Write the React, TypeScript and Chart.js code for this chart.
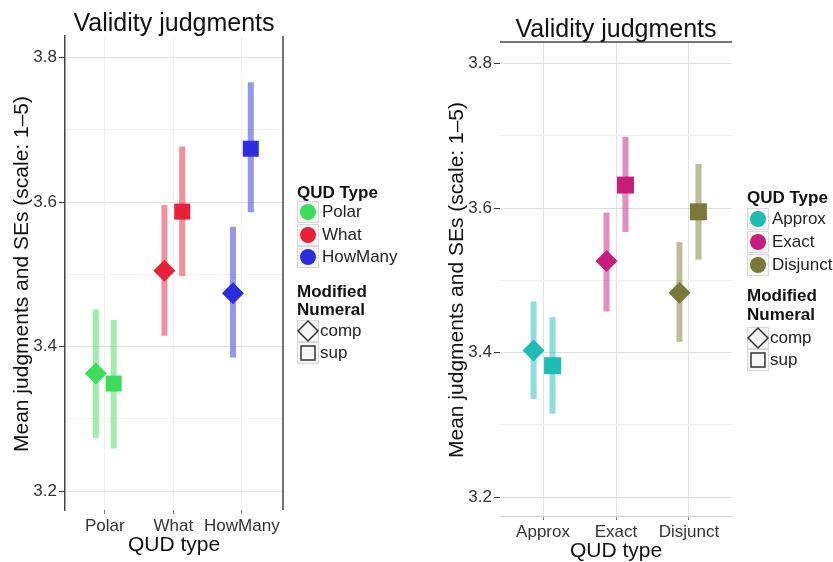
import React, { useEffect, useRef } from "react";
import { Chart, registerables } from "chart.js";

Chart.register(...registerables);

const FONT = '"Liberation Sans", Arial, Helvetica, sans-serif';

// ---------- data ----------
const chartTitle = "Validity judgments";
const xAxisTitle = "QUD type";
const yAxisTitle = "Mean judgments and SEs (scale: 1\u20135)";
const legendTitleColor = "QUD Type";
const legendTitleShape = ["Modified", "Numeral"];
const shapeLabels = ["comp", "sup"];

const yTickValues = [3.2, 3.3, 3.4, 3.5, 3.6, 3.7, 3.8];

// left panel
const leftCategories = ["Polar", "What", "HowMany"];
const leftCompMean = [3.363, 3.505, 3.474];
const leftCompLow = [3.274, 3.415, 3.385];
const leftCompHigh = [3.452, 3.596, 3.566];
const leftSupMean = [3.349, 3.587, 3.674];
const leftSupLow = [3.259, 3.498, 3.586];
const leftSupHigh = [3.437, 3.677, 3.766];
const leftColors = ["#3ddc5c", "#e8213a", "#2d2ddf"];

// right panel
const rightCategories = ["Approx", "Exact", "Disjunct"];
const rightCompMean = [3.403, 3.527, 3.483];
const rightCompLow = [3.336, 3.457, 3.415];
const rightCompHigh = [3.471, 3.594, 3.553];
const rightSupMean = [3.382, 3.632, 3.595];
const rightSupLow = [3.316, 3.567, 3.529];
const rightSupHigh = [3.449, 3.699, 3.661];
const rightColors = ["#1dbdb6", "#c71e7e", "#79793a"];

// ---------- helpers ----------
function withAlpha(hex: string, a: number) {
  const n = parseInt(hex.slice(1), 16);
  return `rgba(${(n >> 16) & 255},${(n >> 8) & 255},${n & 255},${a})`;
}

const isMajor = (v: number) => Math.round(v * 10) % 2 === 0;

type PanelSpec = {
  categories: string[];
  compMean: number[];
  compLow: number[];
  compHigh: number[];
  supMean: number[];
  supLow: number[];
  supHigh: number[];
  colors: string[];
  width: number;
  height: number;
  padTop: number;
  padRight: number;
  yAxisWidth: number;
  xAxisHeight: number;
  xMin: number;
  xMax: number;
  dodge: number;
  frame: "sides" | "top";
  titleY: number;
  xTitleY: number;
  yTitleX: number;
  yTitleY: number;
  legendX: number;
  legendColorTitleY: number;
  legendColorY: number[];
  legendShapeTitleY: number[];
  legendShapeY: number[];
  squareRadius: number;
  diamondRadius: number;
  vGrid: string;
  hMajor: string;
  hMinor: string;
  bottomBorder: boolean;
};

function buildConfig(spec: PanelSpec) {
  const datasets: any[] = [];
  spec.categories.forEach((_, i) => {
    const xc = i + 1 - spec.dodge;
    const xs = i + 1 + spec.dodge;
    datasets.push({
      type: "line",
      data: [
        { x: xc, y: spec.compLow[i] },
        { x: xc, y: spec.compHigh[i] },
        { x: xc, y: null },
        { x: xs, y: spec.supLow[i] },
        { x: xs, y: spec.supHigh[i] },
      ],
      borderColor: withAlpha(spec.colors[i], 0.5),
      borderWidth: 6,
      borderCapStyle: "butt",
      pointRadius: 0,
      spanGaps: false,
      fill: false,
      order: 2,
    });
    datasets.push({
      type: "scatter",
      data: [
        { x: xc, y: spec.compMean[i] },
        { x: xs, y: spec.supMean[i] },
      ],
      pointStyle: ["rectRot", "rect"],
      pointRadius: [spec.diamondRadius, spec.squareRadius],
      backgroundColor: spec.colors[i],
      borderWidth: 0,
      order: 0,
    });
  });

  const extras = {
    id: "panelExtras",
    afterDraw(chart: any) {
      const ctx = chart.ctx as CanvasRenderingContext2D;
      const a = chart.chartArea;
      ctx.save();
      ctx.strokeStyle = "#444";
      ctx.lineWidth = 1.5;
      ctx.beginPath();
      if (spec.frame === "sides") {
        ctx.moveTo(a.right, a.top);
        ctx.lineTo(a.right, a.bottom);
      } else {
        ctx.moveTo(a.left, a.top);
        ctx.lineTo(a.right, a.top);
      }
      ctx.stroke();

      ctx.fillStyle = "#111";
      ctx.textAlign = "center";
      ctx.textBaseline = "alphabetic";
      ctx.font = `25px ${FONT}`;
      ctx.fillText(chartTitle, (a.left + a.right) / 2, spec.titleY);
      ctx.font = `21px ${FONT}`;
      ctx.fillText(xAxisTitle, (a.left + a.right) / 2, spec.xTitleY);
      ctx.save();
      ctx.translate(spec.yTitleX, spec.yTitleY);
      ctx.rotate(-Math.PI / 2);
      ctx.fillText(yAxisTitle, 0, 0);
      ctx.restore();

      // legend
      const lx = spec.legendX;
      const kw = 22;
      ctx.textAlign = "left";
      ctx.textBaseline = "middle";
      ctx.font = `bold 17px ${FONT}`;
      ctx.fillStyle = "#111";
      ctx.fillText(legendTitleColor, lx, spec.legendColorTitleY);
      spec.categories.forEach((cat, i) => {
        const cy = spec.legendColorY[i];
        ctx.fillStyle = "#f6f6f6";
        ctx.fillRect(lx, cy - kw / 2, kw, kw);
        ctx.strokeStyle = "#d8d8d8";
        ctx.lineWidth = 1;
        ctx.strokeRect(lx + 0.5, cy - kw / 2 + 0.5, kw - 1, kw - 1);
        ctx.fillStyle = spec.colors[i];
        ctx.beginPath();
        ctx.arc(lx + kw / 2, cy, 8, 0, Math.PI * 2);
        ctx.fill();
        ctx.fillStyle = "#222";
        ctx.font = `17px ${FONT}`;
        ctx.fillText(cat, lx + kw + 3, cy);
      });
      ctx.font = `bold 17px ${FONT}`;
      ctx.fillStyle = "#111";
      legendTitleShape.forEach((t, i) => ctx.fillText(t, lx, spec.legendShapeTitleY[i]));
      shapeLabels.forEach((lab, i) => {
        const cy = spec.legendShapeY[i];
        const cx = lx + kw / 2;
        ctx.fillStyle = "#f6f6f6";
        ctx.fillRect(lx, cy - kw / 2, kw, kw);
        ctx.strokeStyle = "#d8d8d8";
        ctx.lineWidth = 1;
        ctx.strokeRect(lx + 0.5, cy - kw / 2 + 0.5, kw - 1, kw - 1);
        ctx.strokeStyle = "#333";
        ctx.lineWidth = 1.5;
        ctx.beginPath();
        if (i === 0) {
          ctx.moveTo(cx - 10, cy);
          ctx.lineTo(cx, cy - 10);
          ctx.lineTo(cx + 10, cy);
          ctx.lineTo(cx, cy + 10);
          ctx.closePath();
        } else {
          ctx.rect(cx - 7, cy - 7, 14, 14);
        }
        ctx.stroke();
        ctx.fillStyle = "#222";
        ctx.font = `17px ${FONT}`;
        ctx.fillText(lab, lx + kw + 1, cy);
      });
      ctx.restore();
    },
  };

  return {
    type: "scatter",
    data: { datasets },
    plugins: [extras],
    options: {
      animation: false,
      responsive: false,
      events: [],
      layout: {
        autoPadding: false,
        padding: { left: 0, right: spec.padRight, top: spec.padTop, bottom: 0 },
      },
      plugins: { legend: { display: false }, tooltip: { enabled: false }, title: { display: false } },
      scales: {
        x: {
          type: "linear",
          min: spec.xMin,
          max: spec.xMax,
          afterBuildTicks: (s: any) => {
            s.ticks = spec.categories.map((_, i) => ({ value: i + 1 }));
          },
          afterFit: (s: any) => {
            s.height = spec.xAxisHeight;
          },
          ticks: {
            autoSkip: false,
            maxRotation: 0,
            padding: 2,
            color: "#333",
            font: { family: FONT, size: 17 },
            callback: (v: number) => spec.categories[Math.round(v) - 1] ?? "",
          },
          grid: {
            color: spec.vGrid,
            lineWidth: 1,
            tickLength: 4,
            tickColor: "#777",
          },
          border: { display: spec.bottomBorder, color: "#d0d0d0", width: 1 },
        },
        y: {
          type: "linear",
          min: 3.174,
          max: 3.83,
          afterBuildTicks: (s: any) => {
            s.ticks = yTickValues.map((v) => ({ value: v }));
          },
          afterFit: (s: any) => {
            s.width = spec.yAxisWidth;
          },
          ticks: {
            padding: 2,
            color: "#333",
            font: { family: FONT, size: 17 },
            callback: (v: number) => (isMajor(v) ? v.toFixed(1) : ""),
          },
          grid: {
            color: (c: any) => (c.tick && isMajor(c.tick.value) ? spec.hMajor : spec.hMinor),
            lineWidth: 1,
            tickLength: 6,
            tickColor: (c: any) => (c.tick && isMajor(c.tick.value) ? "#333" : "rgba(0,0,0,0)"),
          },
          border: { display: spec.frame === "sides", color: "#444", width: 1.5 },
        },
      },
    },
  };
}

const leftSpec: PanelSpec = {
  categories: leftCategories,
  compMean: leftCompMean,
  compLow: leftCompLow,
  compHigh: leftCompHigh,
  supMean: leftSupMean,
  supLow: leftSupLow,
  supHigh: leftSupHigh,
  colors: leftColors,
  width: 420,
  height: 562,
  padTop: 36,
  padRight: 137,
  yAxisWidth: 65,
  xAxisHeight: 52,
  xMin: 0.42,
  xMax: 3.6,
  dodge: 0.13,
  frame: "sides",
  titleY: 31,
  xTitleY: 551,
  yTitleX: 28,
  yTitleY: 274,
  legendX: 297,
  legendColorTitleY: 193,
  legendColorY: [212, 235, 257],
  legendShapeTitleY: [292, 310],
  legendShapeY: [331, 353],
  squareRadius: 11.3,
  diamondRadius: 11,
  vGrid: "#f0f0f0",
  hMajor: "#e2e2e2",
  hMinor: "#f3f3f3",
  bottomBorder: false,
};

const rightSpec: PanelSpec = {
  categories: rightCategories,
  compMean: rightCompMean,
  compLow: rightCompLow,
  compHigh: rightCompHigh,
  supMean: rightSupMean,
  supLow: rightSupLow,
  supHigh: rightSupHigh,
  colors: rightColors,
  width: 413,
  height: 562,
  padTop: 42,
  padRight: 101,
  yAxisWidth: 80,
  xAxisHeight: 46,
  xMin: 0.41,
  xMax: 3.59,
  dodge: 0.13,
  frame: "top",
  titleY: 37,
  xTitleY: 557,
  yTitleX: 43,
  yTitleY: 280,
  legendX: 327,
  legendColorTitleY: 198,
  legendColorY: [219, 242, 265],
  legendShapeTitleY: [296, 315],
  legendShapeY: [338, 360],
  squareRadius: 12,
  diamondRadius: 11,
  vGrid: "#e3e3e3",
  hMajor: "#dedede",
  hMinor: "#eeeeee",
  bottomBorder: true,
};

function Panel({ spec, left }: { spec: PanelSpec; left: number }) {
  const ref = useRef<HTMLCanvasElement | null>(null);
  useEffect(() => {
    if (!ref.current) return;
    const chart = new Chart(ref.current, buildConfig(spec) as any);
    return () => chart.destroy();
  }, [spec]);
  return (
    <canvas
      ref={ref}
      width={spec.width}
      height={spec.height}
      style={{ position: "absolute", left, top: 0, width: spec.width, height: spec.height, display: "block" }}
    />
  );
}

export default function App() {
  useEffect(() => {
    document.body.style.margin = "0";
    document.body.style.background = "#fff";
  }, []);
  return (
    <div style={{ position: "relative", width: 833, height: 562, background: "#fff", overflow: "hidden" }}>
      <Panel spec={leftSpec} left={0} />
      <Panel spec={rightSpec} left={420} />
    </div>
  );
}
